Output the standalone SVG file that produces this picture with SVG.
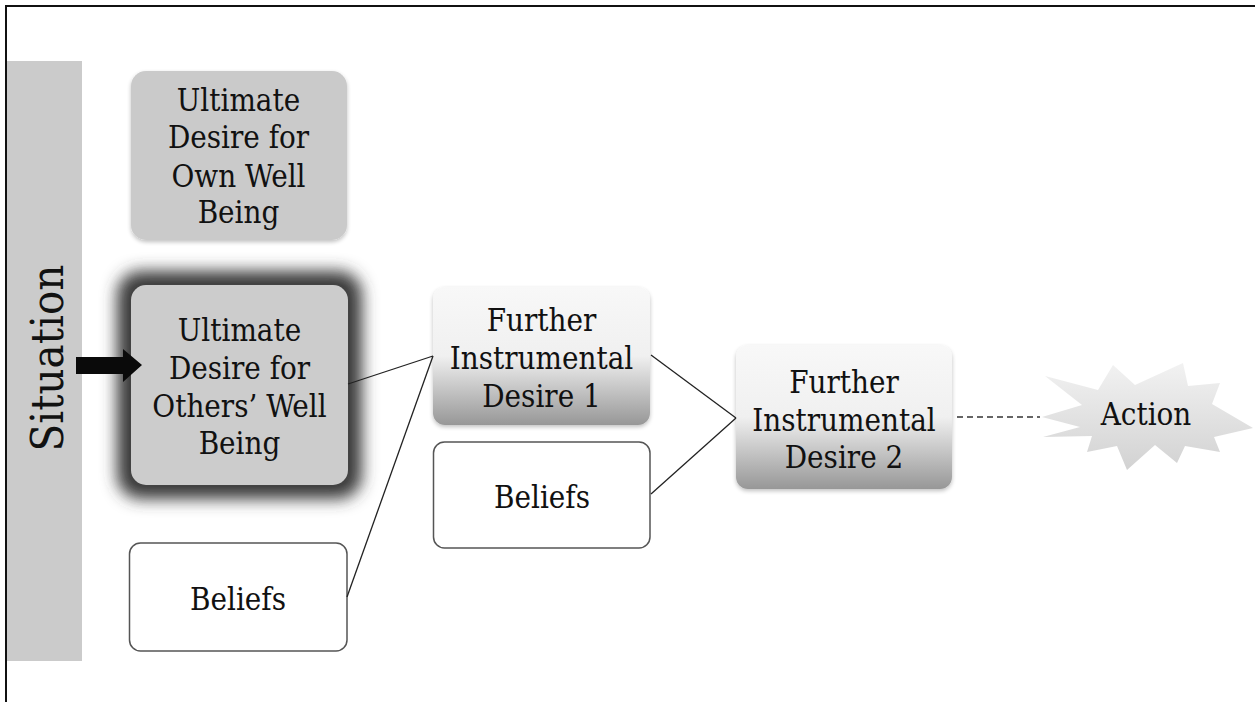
<svg xmlns="http://www.w3.org/2000/svg" width="1255" height="702" viewBox="0 0 1255 702">
<defs>
<style>
.t text{font-size:31px;fill:#111;text-anchor:middle;font-stretch:condensed}
.gray{fill:#cacaca}
.bel{fill:#fff;stroke:#555;stroke-width:1.5}
.conn line{stroke:#222;stroke-width:1.3}
</style>
<linearGradient id="fid" x1="0" y1="0" x2="0" y2="1">
<stop offset="0" stop-color="#f8f8f8"/>
<stop offset="0.5" stop-color="#f0f0f0"/>
<stop offset="1" stop-color="#979797"/>
</linearGradient>
<linearGradient id="star" x1="0" y1="0" x2="0" y2="1">
<stop offset="0" stop-color="#f2f2f2"/>
<stop offset="1" stop-color="#d2d2d2"/>
</linearGradient>
<filter id="glow" x="-30%" y="-30%" width="160%" height="160%">
<feGaussianBlur stdDeviation="8"/>
</filter>
<filter id="shadow" x="-10%" y="-10%" width="120%" height="125%">
<feGaussianBlur in="SourceAlpha" stdDeviation="2"/>
<feOffset dy="2"/>
<feComponentTransfer><feFuncA type="linear" slope="0.25"/></feComponentTransfer>
<feMerge><feMergeNode/><feMergeNode in="SourceGraphic"/></feMerge>
</filter>
</defs>
<rect width="1255" height="702" fill="#fff"/>
<path d="M6,702 V6 H1255" fill="none" stroke="#111" stroke-width="2"/>

<g class="t" font-family="DejaVu Serif Condensed, DejaVu Serif, Liberation Serif, serif">

<g id="situation">
<rect x="7" y="61" width="75" height="600" fill="#cbcbcb"/>
<text transform="translate(63,358) rotate(-90)" style="font-size:45px">Situation</text>
</g>

<g id="own">
<rect x="131" y="71" width="216" height="169" rx="15" class="gray" filter="url(#shadow)"/>
<text x="238.5" y="110.5">Ultimate</text>
<text x="238.5" y="148">Desire for</text>
<text x="238.5" y="186.5">Own Well</text>
<text x="238.5" y="223">Being</text>
</g>

<g id="others">
<rect x="117" y="271" width="245" height="228" rx="24" fill="#3a3a3a" filter="url(#glow)"/>
<rect x="131" y="285" width="217" height="200" rx="15" fill="#cccccc"/>
<text x="239.5" y="341">Ultimate</text>
<text x="239.5" y="378.5">Desire for</text>
<text x="239.5" y="416.5">Others’ Well</text>
<text x="239.5" y="454">Being</text>
</g>

<g id="arrow">
<polygon points="76,357 123,357 123,349 142,365 123,382 123,374 76,374" fill="#0a0a0a"/>
</g>

<g id="beliefs1">
<rect x="129.5" y="543" width="217.5" height="108" rx="11" class="bel"/>
<text x="238" y="610">Beliefs</text>
</g>

<g id="fid1">
<rect x="433" y="287" width="217" height="138" rx="12" fill="url(#fid)" filter="url(#shadow)"/>
<text x="541.5" y="331">Further</text>
<text x="541.5" y="368.5">Instrumental</text>
<text x="541.5" y="406.5">Desire 1</text>
</g>

<g id="beliefs2">
<rect x="433.5" y="442" width="216.5" height="106" rx="11" class="bel"/>
<text x="542" y="508">Beliefs</text>
</g>

<g id="fid2">
<rect x="736" y="345" width="216" height="144" rx="12" fill="url(#fid)" filter="url(#shadow)"/>
<text x="844" y="393">Further</text>
<text x="844" y="430.5">Instrumental</text>
<text x="844" y="468">Desire 2</text>
</g>

<g id="action">
<polygon points="1042,417 1082,405 1045,376 1098,390 1113,365 1135,385 1183,363 1188,386 1220,383 1212,404 1253,428 1214,437 1220,452 1185,446 1177,463 1155,445 1127,470 1117,446 1087,452 1092,436 1043,437 1080,427" fill="url(#star)"/>
<text x="1146" y="425">Action</text>
</g>
</g>

<g class="conn" id="connectors">
<line x1="348" y1="384" x2="433" y2="356"/>
<line x1="347" y1="597" x2="433" y2="356"/>
<line x1="651" y1="355" x2="736" y2="418"/>
<line x1="651" y1="494" x2="736" y2="418"/>
<line x1="957" y1="417" x2="1040" y2="417" stroke-dasharray="6 4" style="stroke:#333"/>
</g>
</svg>
